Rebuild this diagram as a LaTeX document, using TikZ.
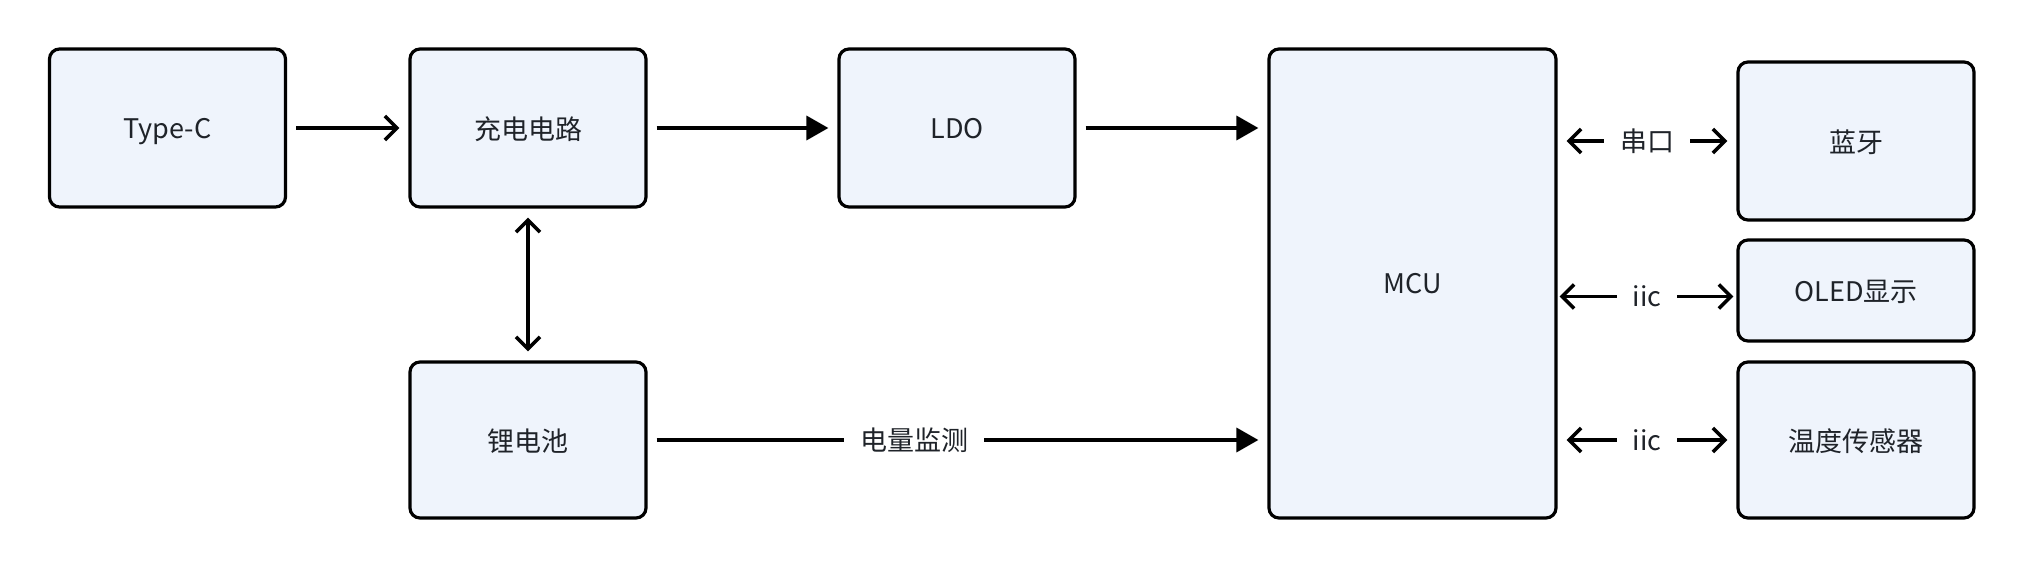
\documentclass[tikz,border=0pt]{standalone}
\usepackage{fontspec}
\setmainfont{Noto Sans CJK SC}
\usetikzlibrary{arrows.meta}
\definecolor{boxfill}{HTML}{EFF4FC}
\definecolor{txt}{HTML}{1F2329}
\begin{document}
\begin{tikzpicture}[x=0.5pt,y=-0.5pt,
 box/.style={draw=black, line width=1.6pt, rounded corners=5pt, fill=boxfill, text=txt, font=\fontsize{13.5pt}{16pt}\selectfont, inner sep=0pt, minimum width=118pt, text depth=0pt},
 conn/.style={line width=1.8pt, shorten >=4.5pt, shorten <=4.5pt},
 fa/.style={conn, -{Triangle[length=11pt,width=12pt]}},
 oa/.style={conn, -{Straight Barb[length=6pt,width=12pt]}},
 da/.style={conn, {Straight Barb[length=6pt,width=12pt]}-{Straight Barb[length=6pt,width=12pt]}},
 lbl/.style={fill=white, text=txt, font=\fontsize{13.5pt}{16pt}\selectfont, inner xsep=8pt, inner ysep=2pt}]
\useasboundingbox (0,0) rectangle (2026,568);
\node[box, minimum height=79pt] (tc) at (167.5,128) {Type-C};
\node[box, minimum height=79pt] (chg) at (528,128) {充电电路};
\node[box, minimum height=79pt] (ldo) at (957,128) {LDO};
\node[box, minimum width=143.5pt, minimum height=234.5pt] (mcu) at (1412.5,283.5) {MCU};
\node[box, minimum height=79pt] (bt) at (1856,141) {蓝牙};
\node[box, minimum height=50.5pt] (oled) at (1856,290.5) {OLED显示};
\node[box, minimum height=78pt] (temp) at (1856,440) {温度传感器};
\node[box, minimum height=78pt] (bat) at (528,440) {锂电池};

\draw[oa] (tc) -- (chg);
\draw[fa] (chg) -- (ldo);
\draw[fa] (ldo.east) -- (ldo.east -| mcu.west);
\draw[da] (chg) -- (bat);
\draw[fa] (bat.east) -- node[lbl, pos=0.43] {电量监测} (bat.east -| mcu.west);
\draw[da] (bt.west -| mcu.east) -- node[lbl] {串口} (bt.west);
\draw[da, shorten >=1.5pt, shorten <=1pt] ([yshift=-3pt]oled.west -| mcu.east) -- node[lbl] {iic} ([yshift=-3pt]oled.west);
\draw[da] (temp.west -| mcu.east) -- node[lbl] {iic} (temp.west);
\end{tikzpicture}
\end{document}
